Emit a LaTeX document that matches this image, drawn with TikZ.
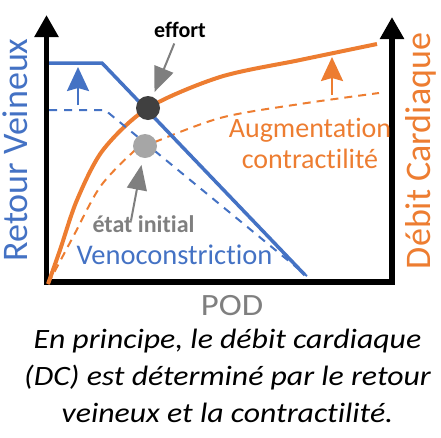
\documentclass[tikz,border=0pt]{standalone}
\usepackage{fontspec}
\setmainfont{Carlito}[Ligatures=NoCommon]
\usepackage{tikz}
\definecolor{venblue}{HTML}{4472C4}
\definecolor{dcorange}{HTML}{ED7D31}
\definecolor{arrowgrey}{HTML}{7F7F7F}
\definecolor{pointdark}{HTML}{404040}
\definecolor{pointlight}{HTML}{A6A6A6}
\tikzset{point node/.style={circle,draw=none,minimum size=24pt,inner sep=0pt},
axis line/.style={line width=5.5pt,{Triangle[length=22pt,width=23pt]}-{Triangle[length=22pt,width=23pt]}},
shift arrow/.style={line width=2.5pt,-{Stealth[length=24pt,width=22pt,inset=3pt]}},
grey arrow/.style={arrowgrey,line width=2pt,-{Triangle[length=25pt,width=20pt]}},
}
\usetikzlibrary{arrows.meta,positioning}

\begin{document}
\begin{tikzpicture}[x=1pt,y=-1pt]
	\useasboundingbox (0,0) rectangle (441,437);
	
	%% axes
	\coordinate (ytop) at (46.5,15);
	\coordinate (origin) at (46.5,282);
	\coordinate (xend) at (392,282);
	\coordinate (dctop) at (392,17);
	\draw[axis line] (ytop) -- (origin) -- (xend) -- (dctop);
	
	%% debit cardiaque
	\draw[dcorange,line width=4pt] plot[smooth] coordinates {(48,284) (60,250) (77,200) (103,150) (148,108) (220,77) (300,60) (377,44)};
	\draw[dcorange,line width=2pt,dash pattern=on 8pt off 6pt] plot[smooth] coordinates {(48,284) (73,237) (100,187) (132,153) (145,146) (220,118) (300,104) (379,93)};
	
	%% retour veineux
	\draw[venblue,line width=3.5pt] (49,63) -- (102,63) -- (305,275);
	\draw[venblue,line width=2pt,dash pattern=on 8pt off 7pt] (49,110) -- (105,110) -- (307,276);
	
	%% shifts
	\coordinate (vrbase) at (78,105);
	\coordinate (vrtip) at (78,67);
	\coordinate (dcbase) at (332,95);
	\coordinate (dctip) at (332,57);
	\draw[shift arrow,venblue] (vrbase) -- (vrtip);
	\draw[shift arrow,dcorange] (dcbase) -- (dctip);
	
	%% points
	\node[point node,fill=pointdark] (effortpt) at (148,108) {};
	\node[point node,fill=pointlight] (initialpt) at (145,146) {};
	
	%% labels
	\node[font=\bfseries\fontsize{22}{26}\selectfont,anchor=base] (effort) at (180,37) {effort};
	\node[font=\bfseries\fontsize{24}{28}\selectfont,text=arrowgrey,anchor=base] (initial) at (143.5,232) {état initial};
	\node[font=\fontsize{28.5}{31}\selectfont,text=venblue,anchor=base] (veno) at (174.5,264) {Venoconstriction};
	\node[font=\fontsize{28}{31}\selectfont,text=dcorange,align=center,anchor=base] (contract) at (310,168) {Augmentation\\contractilité};
	\node[font=\fontsize{36}{40}\selectfont,text=venblue,rotate=90,anchor=base] (rv) at (27,150) {Retour Veineux};
	\node[font=\fontsize{36}{40}\selectfont,text=dcorange,rotate=90,anchor=base] (dc) at (430,151) {Débit Cardiaque};
	\node[font=\fontsize{31}{36}\selectfont,text=arrowgrey,anchor=base,xscale=1.12] (pod) at (232,315) {POD};
	\node[font=\itshape\fontsize{28}{36.7}\selectfont,align=center,anchor=base,xscale=1.135] (caption) at (227.5,422) {En principe, le débit cardiaque\\(DC) est déterminé par le retour\\veineux et la contractilité.};
	
	\draw[grey arrow,shorten <=3pt,shorten >=5pt] (effort) -- (effortpt);
	\draw[grey arrow,shorten >=7pt] ([xshift=-12.5pt,yshift=-9pt]initial.north) -- (initialpt);
\end{tikzpicture}
\end{document}
